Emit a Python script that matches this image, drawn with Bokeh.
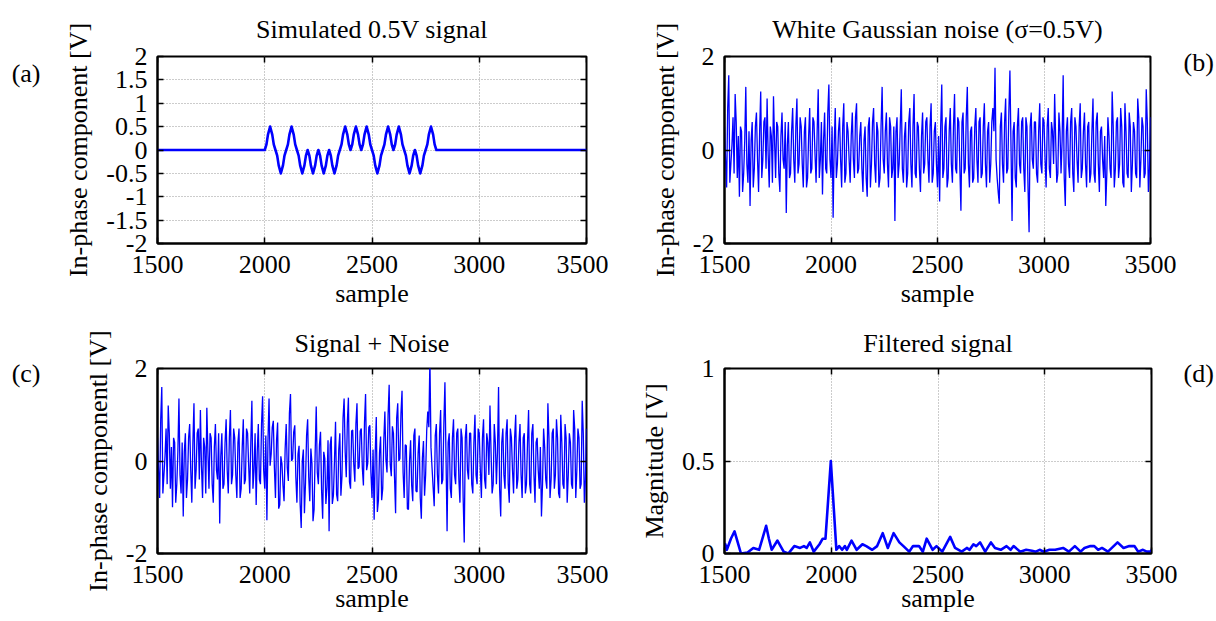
from bokeh.plotting import figure
from bokeh.layouts import column, row
from bokeh.models import Range1d, FixedTicker, CustomJSTickFormatter, LinearAxis
from bokeh.embed import file_html
from bokeh.resources import INLINE

# ---------------- data ----------------
x_ticks = [1500, 2000, 2500, 3000, 3500]
y_ticks_a = [-2, -1.5, -1, -0.5, 0, 0.5, 1, 1.5, 2]
y_ticks_bc = [-2, 0, 2]
y_ticks_d = [0, 0.5, 1]

titles = ["Simulated 0.5V signal", "White Gaussian noise (\u03c3=0.5V)",
          "Signal + Noise", "Filtered signal"]
ylabels = ["In-phase component [V]", "In-phase component [V]",
           "In-phase componentl [V]", "Magnitude [V]"]
xlabel = "sample"
panel_tags = ["(a)", "(b)", "(c)", "(d)"]

# (a) simulated signal: vertices of the pulse train
signal_x = [1500, 2000,
            2008, 2015, 2025, 2035, 2042, 2050,
            2058, 2065, 2075, 2085, 2092, 2100,
            2108, 2115, 2125, 2135, 2142, 2150,
            2158, 2165, 2175, 2185, 2192, 2200,
            2208, 2215, 2225, 2235, 2242, 2250,
            2258, 2265, 2275, 2285, 2292, 2300,
            2308, 2315, 2325, 2335, 2342, 2350,
            2358, 2365, 2375, 2385, 2392, 2400,
            2408, 2415, 2425, 2435, 2442, 2450,
            2458, 2465, 2475, 2485, 2492, 2500,
            2508, 2515, 2525, 2535, 2542, 2550,
            2558, 2565, 2575, 2585, 2592, 2600,
            2608, 2615, 2625, 2635, 2642, 2650,
            2658, 2665, 2675, 2685, 2692, 2700,
            2708, 2715, 2725, 2735, 2742, 2750,
            2758, 2765, 2775, 2785, 2792, 2800,
            3500]
signal_y = [0, 0,
            0.12, 0.33, 0.5, 0.33, 0.12, 0,
            -0.12, -0.33, -0.5, -0.33, -0.12, 0,
            0.12, 0.33, 0.5, 0.33, 0.12, 0,
            -0.12, -0.33, -0.5, -0.33, -0.12, 0,
            -0.12, -0.33, -0.5, -0.33, -0.12, 0,
            -0.12, -0.33, -0.5, -0.33, -0.12, 0,
            -0.12, -0.33, -0.5, -0.33, -0.12, 0,
            0.12, 0.33, 0.5, 0.33, 0.12, 0,
            0.12, 0.33, 0.5, 0.33, 0.12, 0,
            0.12, 0.33, 0.5, 0.33, 0.12, 0,
            -0.12, -0.33, -0.5, -0.33, -0.12, 0,
            0.12, 0.33, 0.5, 0.33, 0.12, 0,
            0.12, 0.33, 0.5, 0.33, 0.12, 0,
            -0.12, -0.33, -0.5, -0.33, -0.12, 0,
            -0.12, -0.33, -0.5, -0.33, -0.12, 0,
            0.12, 0.33, 0.5, 0.33, 0.12, 0,
            0]

# (b), (c) sample positions (every 5th sample)
noise_x = list(range(1500, 3501, 5))

noise_b = [
    0.5, -0.2, -0.8, 0.9, 1.6, -0.7, -0.3, 0.1, 0.7, -0.5, 1.2, 0.6, -0.6, 0.3, -1.0, 0.5, 0.4, -0.9, -0.5, 0.2,
    1.35, -0.3, -0.7, 0.4, -1.2, 0.2, 0.6, -0.8, -0.4, 0.5, 0.8, -0.2, -0.9, 0.4, 1.25, -0.6, -0.2, 0.6, 0.7, -0.4,
    1.1, -0.1, -0.8, 0.5, 0.3, -0.7, 1.15, 0.2, -0.6, 0.6, 0.5, -0.5, -0.9, 0.3, 0.8, -0.2, -0.4, 0.6, -1.35, 0.1,
    0.6, -0.6, -0.5, 0.4, 0.9, -0.2, -0.7, 0.5, 1.1, -0.5, -0.3, 0.7, 0.5, -0.3, -0.8, 0.4, 0.7, -0.8, -0.6, 0.3,
    0.9, -0.5, -0.4, 0.7, 0.6, -0.1, -0.7, 0.4, 1.3, -0.6, -0.2, 0.6, -0.95, 0.2, 0.8, -0.4, -0.5, 0.8, 1.4, -0.2,
    -0.6, 0.5, -1.45, 0.1, 0.9, -0.6, -0.3, 0.4, 0.7, -0.2, -0.8, 0.5, 1.0, -0.7, -0.5, 0.6, 0.4, -0.2, -0.7, 0.3,
    0.8, -0.2, -0.6, 0.7, 1.0, -0.5, -0.4, 0.3, 0.6, -0.4, -0.9, 0.2, 0.5, -0.6, -1.0, 0.5, 0.7, -0.8, -0.3, 0.6,
    0.9, -0.3, -0.7, 0.6, 0.4, -0.8, -0.6, 0.5, 1.35, -0.2, -0.5, 0.4, 0.8, -0.3, -0.8, 0.7, 0.5, -0.6, -0.4, 0.5,
    -1.52, 0.4, 0.7, -0.6, -0.3, 0.5, 1.3, -0.4, -0.7, 0.3, 0.6, -0.8, -0.5, 0.6, 0.9, -0.3, -0.8, 0.5, 1.2, -0.5,
    -0.6, 0.6, 0.5, -0.4, -0.9, 0.3, 0.8, -0.5, -0.3, 0.6, 0.7, -0.2, -0.7, 0.5, 1.0, -0.7, -0.5, 0.4, 0.6, -0.3,
    -0.8, 0.3, -1.1, 0.5, 1.4, -0.6, -0.4, 0.5, 0.7, -0.8, -0.6, 0.4, 0.9, -0.3, -0.7, 0.5, 1.2, -0.4, -0.5, 0.7,
    0.6, -0.4, -1.3, 0.6, 0.8, -0.5, -0.4, 0.7, 1.35, -0.3, -0.8, 0.4, 0.5, -0.7, -0.6, 0.5, 0.9, -0.2, -0.7, 0.6,
    0.7, -0.6, -0.5, 0.5, 1.0, -0.3, -0.8, 0.4, 0.6, -0.7, -0.3, 0.6, 0.9, 0.4, 1.76, -0.2, -0.6, -0.9, -1.15, 0.5,
    0.8, -0.3, -0.7, 0.6, 1.1, -0.5, -0.4, 0.8, 1.7, 0.1, -1.52, 0.4, 0.6, -0.6, -0.8, 0.5, 0.9, -0.3, -0.5, 0.6,
    0.7, -0.4, -0.9, 0.7, 0.5, -0.8, -1.76, 0.5, 0.8, -0.2, -0.4, 0.6, 0.6, -0.5, -0.7, 0.4, 1.0, -0.3, -0.5, 0.7,
    0.6, -0.2, -0.8, 0.5, 0.9, -0.4, -0.6, 0.6, 0.4, -0.3, 1.2, 0.2, -0.7, -0.5, 0.8, 0.4, -0.5, 0.2, 1.6, -0.6,
    -1.2, 0.4, 0.7, -0.3, -0.6, 0.6, 0.9, -0.5, -0.9, 0.7, 0.5, -0.2, -0.7, 0.5, 1.0, -0.6, -0.4, 0.4, 0.8, -0.3,
    -0.8, 0.5, 0.6, -0.7, -0.5, 0.4, 1.1, -0.5, -0.7, 0.6, 0.8, -0.3, -0.9, 0.4, 0.5, -0.2, -0.6, 0.3, -1.2, -0.5,
    0.7, 0.3, -0.4, -0.6, 1.25, 0.5, -0.8, -0.4, 0.6, 0.7, -0.6, -0.3, 0.9, 0.5, -0.7, -0.8, 1.0, 0.4, -0.5, -0.6,
    0.8, 0.5, -0.9, -0.3, 0.6, 0.4, -0.5, -0.6, 1.1, 0.7, -0.8, -0.2, 0.7, 0.5, -0.6, -0.5, 1.3, 0.6, -0.9, -0.4,
    0.7]

noise_c = [
    0.5, -0.2, -0.8, 0.9, 1.6, -0.7, -0.3, 0.1, 0.7, -0.5, 1.2, 0.6, -0.6, 0.3, -1.0, 0.5, 0.4, -0.9, -0.5, 0.2,
    1.35, -0.3, -0.7, 0.4, -1.2, 0.2, 0.6, -0.8, -0.4, 0.5, 0.8, -0.2, -0.9, 0.4, 1.25, -0.6, -0.2, 0.6, 0.7, -0.4,
    1.1, -0.1, -0.8, 0.5, 0.3, -0.7, 1.15, 0.2, -0.6, 0.6, 0.5, -0.5, -0.9, 0.3, 0.8, -0.2, -0.4, 0.6, -1.35, 0.1,
    0.6, -0.6, -0.5, 0.4, 0.9, -0.2, -0.7, 0.5, 1.1, -0.5, -0.3, 0.7, 0.5, -0.3, -0.8, 0.4, 0.7, -0.8, -0.6, 0.3,
    0.9, -0.5, -0.4, 0.7, 0.6, -0.1, -0.7, 0.4, 1.3, -0.6, -0.2, 0.6, -0.95, 0.2, 0.8, -0.4, -0.5, 0.8, 1.4, -0.2,
    -0.6, 0.55, -1.28, 0.43, 1.35, -0.1, 0.15, 0.73, 0.87, -0.15, -0.8, 0.45, 0.83, -1.03, -0.95, 0.1, -0.05, -0.53, -0.87, 0.25,
    0.8, -0.15, -0.43, 1.03, 1.45, 0.0, 0.05, 0.63, 0.77, -0.35, -0.9, 0.15, 0.33, -0.93, -1.45, 0.0, 0.25, -1.13, -0.47, 0.55,
    0.9, -0.35, -0.87, 0.27, -0.05, -1.3, -1.05, 0.17, 1.18, -0.25, -0.5, 0.35, 0.63, -0.63, -1.25, 0.2, 0.05, -0.93, -0.57, 0.45,
    -1.52, 0.35, 0.53, -0.93, -0.75, 0.0, 0.85, -0.73, -0.87, 0.25, 0.6, -0.75, -0.33, 0.93, 1.35, 0.2, -0.35, 0.83, 1.37, -0.45,
    -0.6, 0.65, 0.67, -0.07, -0.45, 0.8, 1.25, -0.17, -0.13, 0.65, 0.7, -0.15, -0.53, 0.83, 1.45, -0.2, -0.05, 0.73, 0.77, -0.25,
    -0.8, 0.25, -1.27, 0.17, 0.95, -1.1, -0.85, 0.17, 0.53, -0.85, -0.6, 0.45, 1.07, 0.03, -0.25, 1.0, 1.65, -0.07, -0.33, 0.75,
    0.6, -0.35, -1.13, 0.93, 1.25, 0.0, 0.05, 1.03, 1.52, -0.25, -0.8, 0.35, 0.33, -1.03, -1.05, 0.0, 0.45, -0.53, -0.87, 0.55,
    0.7, -0.65, -0.67, 0.17, 0.55, -0.8, -1.25, 0.07, 0.43, -0.75, -0.3, 0.65, 1.07, 0.73, 2.21, 0.3, -0.15, -0.57, -0.98, 0.55,
    0.8, -0.3, -0.7, 0.6, 1.1, -0.5, -0.4, 0.8, 1.7, 0.1, -1.52, 0.4, 0.6, -0.6, -0.8, 0.5, 0.9, -0.3, -0.5, 0.6,
    0.7, -0.4, -0.9, 0.7, 0.5, -0.8, -1.76, 0.5, 0.8, -0.2, -0.4, 0.6, 0.6, -0.5, -0.7, 0.4, 1.0, -0.3, -0.5, 0.7,
    0.6, -0.2, -0.8, 0.5, 0.9, -0.4, -0.6, 0.6, 0.4, -0.3, 1.2, 0.2, -0.7, -0.5, 0.8, 0.4, -0.5, 0.2, 1.6, -0.6,
    -1.2, 0.4, 0.7, -0.3, -0.6, 0.6, 0.9, -0.5, -0.9, 0.7, 0.5, -0.2, -0.7, 0.5, 1.0, -0.6, -0.4, 0.4, 0.8, -0.3,
    -0.8, 0.5, 0.6, -0.7, -0.5, 0.4, 1.1, -0.5, -0.7, 0.6, 0.8, -0.3, -0.9, 0.4, 0.5, -0.2, -0.6, 0.3, -1.2, -0.5,
    0.7, 0.3, -0.4, -0.6, 1.25, 0.5, -0.8, -0.4, 0.6, 0.7, -0.6, -0.3, 0.9, 0.5, -0.7, -0.8, 1.0, 0.4, -0.5, -0.6,
    0.8, 0.5, -0.9, -0.3, 0.6, 0.4, -0.5, -0.6, 1.1, 0.7, -0.8, -0.2, 0.7, 0.5, -0.6, -0.5, 1.3, 0.6, -0.9, -0.4,
    0.7]

# (d) filtered magnitude
filtered_x = [1500, 1504, 1511, 1530, 1547, 1562, 1577, 1608, 1635, 1662,
              1680, 1695, 1708, 1721, 1748, 1777, 1799, 1827, 1854, 1872,
              1885, 1900, 1918, 1945, 1960, 1973, 1998, 2024, 2037, 2051,
              2064, 2073, 2095, 2119, 2146, 2164, 2192, 2215, 2241, 2265,
              2292, 2319, 2338, 2365, 2383, 2411, 2429, 2447, 2475, 2493,
              2520, 2557, 2580, 2611, 2635, 2648, 2666, 2679, 2697, 2721,
              2748, 2767, 2794, 2821, 2840, 2854, 2885, 2913, 2940, 2958,
              2976, 2995, 3022, 3049, 3086, 3113, 3141, 3168, 3186, 3214,
              3232, 3250, 3268, 3296, 3341, 3369, 3396, 3420, 3438, 3460,
              3478, 3497, 3500]
filtered_y = [0.03, 0.05, 0.02, 0.08, 0.12, 0.06, 0.0, 0.005, 0.03, 0.02,
              0.09, 0.15, 0.08, 0.02, 0.07, 0.01, 0.0, 0.04, 0.03, 0.04,
              0.03, 0.06, 0.01, 0.05, 0.08, 0.08, 0.5, 0.02, 0.04, 0.02,
              0.04, 0.02, 0.07, 0.02, 0.05, 0.04, 0.02, 0.04, 0.11, 0.03,
              0.11, 0.06, 0.04, 0.01, 0.04, 0.04, 0.01, 0.08, 0.02, 0.04,
              0.01, 0.09, 0.03, 0.01, 0.03, 0.02, 0.05, 0.04, 0.06, 0.01,
              0.06, 0.03, 0.02, 0.04, 0.02, 0.04, 0.01, 0.02, 0.015, 0.01,
              0.02, 0.01, 0.02, 0.02, 0.03, 0.01, 0.04, 0.01, 0.03, 0.04,
              0.04, 0.02, 0.03, 0.01, 0.06, 0.03, 0.04, 0.04, 0.01, 0.02,
              0.01, 0.01, 0.02]

# ---------------- styling ----------------
FONT = "Liberation Serif"
FS = "26px"
BLUE = "#0000ff"
fmt_code = "return String(Math.round(tick*100)/100);"


def style_text_axis(ax):
    ax.major_label_text_font = FONT
    ax.major_label_text_font_size = FS
    ax.major_label_text_color = "black"


def make_panel(w, h, left, right, top, bottom, ylim, yticks, title, ylabel,
               title_standoff, xlabel_standoff, tag, tag_side, tag_y, tag_standoff):
    p = figure(width=w, height=h, output_backend="svg", toolbar_location=None,
               x_range=Range1d(1500, 3500), y_range=Range1d(*ylim),
               min_border_left=left, min_border_right=right,
               min_border_top=top, min_border_bottom=bottom,
               background_fill_color="white", border_fill_color="white")
    p.outline_line_color = "black"
    p.outline_line_width = 2

    p.title.text = title
    p.title.align = "center"
    p.title.text_font = FONT
    p.title.text_font_size = FS
    p.title.text_font_style = "normal"
    p.title.text_color = "black"
    p.title.standoff = title_standoff

    for ax in (p.xaxis[0], p.yaxis[0]):
        ax.axis_line_color = "black"
        ax.axis_line_width = 2
        ax.major_tick_in = 6
        ax.major_tick_out = 0
        ax.major_tick_line_width = 1.5
        ax.major_tick_line_color = "black"
        ax.minor_tick_line_color = None
        style_text_axis(ax)
        ax.formatter = CustomJSTickFormatter(code=fmt_code)
        ax.axis_label_text_font = FONT
        ax.axis_label_text_font_size = FS
        ax.axis_label_text_font_style = "normal"
        ax.axis_label_text_color = "black"
    p.xaxis[0].ticker = FixedTicker(ticks=x_ticks)
    p.yaxis[0].ticker = FixedTicker(ticks=yticks)
    p.xaxis[0].major_label_standoff = 12
    p.yaxis[0].major_label_standoff = 10
    p.xaxis[0].axis_label = xlabel
    p.xaxis[0].axis_label_standoff = xlabel_standoff
    p.yaxis[0].axis_label = ylabel
    p.yaxis[0].axis_label_standoff = 10

    for g, t in ((p.xgrid[0], x_ticks), (p.ygrid[0], yticks)):
        g.ticker = FixedTicker(ticks=t)
        g.grid_line_color = "#999999"
        g.grid_line_dash = "1 2"
        g.grid_line_width = 1

    # inward ticks on the top and right edges of the box (drawn on the box itself)
    for side, t, loc in (("above", x_ticks, ylim[1]), ("right", yticks, 3500)):
        bx = LinearAxis(ticker=FixedTicker(ticks=t), axis_line_color=None,
                        fixed_location=loc,
                        major_tick_in=6, major_tick_out=0, major_tick_line_width=1.5,
                        major_tick_line_color="black", minor_tick_line_color=None,
                        major_label_text_font_size="0px", major_label_standoff=0,
                        formatter=CustomJSTickFormatter(code="return '';"))
        p.add_layout(bx, side)

    # panel tag "(a)".."(d)" drawn as a label-only axis outside the box
    tg = LinearAxis(ticker=FixedTicker(ticks=[tag_y]), axis_line_color=None,
                    major_tick_line_color=None, minor_tick_line_color=None,
                    major_label_standoff=tag_standoff,
                    formatter=CustomJSTickFormatter(code="return '%s';" % tag))
    style_text_axis(tg)
    p.add_layout(tg, tag_side)
    return p


pa = make_panel(608, 316, 157, 22, 56, 73, (-2, 2), y_ticks_a, titles[0], ylabels[0],
                25, 3, panel_tags[0], "left", 1.636, 15)
pa.line(signal_x, signal_y, line_color=BLUE, line_width=2.6, line_join="round")

pb = make_panel(608, 316, 116, 62, 56, 73, (-2, 2), y_ticks_bc, titles[1], ylabels[1],
                25, 3, panel_tags[1], "right", 1.88, 27)
pb.line(noise_x, noise_b, line_color=BLUE, line_width=1.3)

pc = make_panel(608, 305, 157, 22, 50, 68, (-2, 2), y_ticks_bc, titles[2], ylabels[2],
                21, -2, panel_tags[2], "left", 1.9, 34)
pc.line(noise_x, noise_c, line_color=BLUE, line_width=1.3)

pd = make_panel(608, 305, 116, 62, 50, 68, (0, 1), y_ticks_d, titles[3], ylabels[3],
                21, -2, panel_tags[3], "right", 0.975, 26)
pd.line(filtered_x, filtered_y, line_color=BLUE, line_width=2.6, line_join="round")

layout = column(row(pa, pb, spacing=0), row(pc, pd, spacing=0), spacing=0)
open("out.html", "w").write(file_html(layout, INLINE))
